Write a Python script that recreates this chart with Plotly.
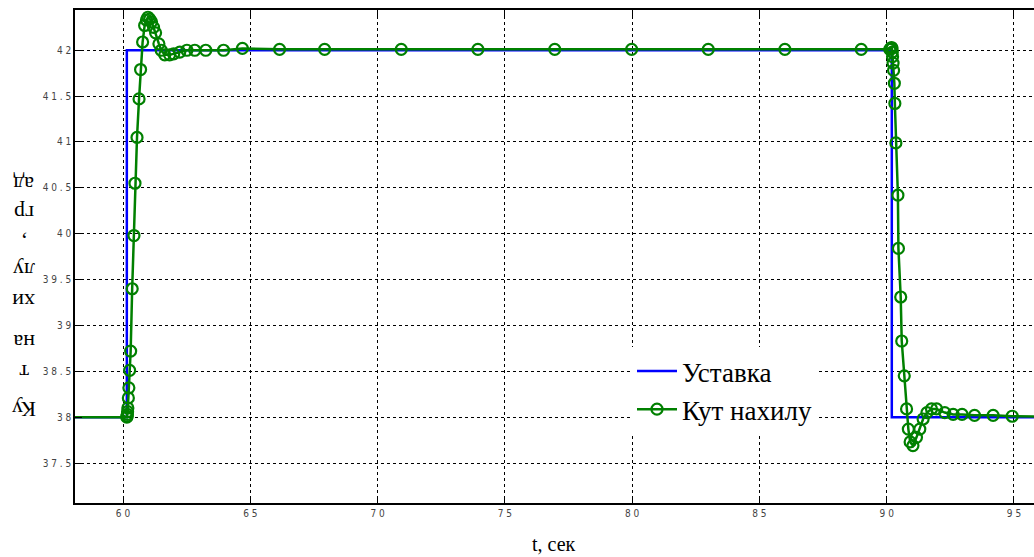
import plotly.graph_objects as go

# ---- data ----
set_t = [57.0, 60.15, 60.15, 90.2, 90.2, 97.0]
set_v = [38.0, 38.0, 42.0, 42.0, 38.0, 38.0]

ang_t = [57.0, 60.15, 60.16, 60.17, 60.18, 60.19, 60.21, 60.23, 60.26, 60.30, 60.36,
         60.43, 60.47, 60.55, 60.63, 60.69, 60.77, 60.85, 60.92, 60.98, 61.05, 61.12,
         61.20, 61.28, 61.41, 61.50, 61.64, 61.83, 61.99, 62.23, 62.51, 62.82, 63.25,
         63.95, 64.69, 66.15, 67.92, 70.93, 73.94, 76.96, 79.98, 82.99, 86.0, 89.0,
         90.12, 90.16, 90.19, 90.21, 90.22, 90.23, 90.25, 90.27, 90.30, 90.32, 90.36,
         90.44, 90.46, 90.55, 90.59, 90.69, 90.78, 90.85, 90.92, 91.03, 91.17, 91.30,
         91.43, 91.58, 91.76, 91.96, 92.28, 92.61, 92.96, 93.45, 94.18, 94.93, 97.0]
ang_v = [38.0, 38.0, 38.01, 38.03, 38.06, 38.10, 38.21, 38.32, 38.51, 38.72, 39.40,
         39.98, 40.55, 41.05, 41.47, 41.79, 42.09, 42.27, 42.33, 42.36, 42.34, 42.31,
         42.25, 42.19, 42.07, 42.0, 41.95, 41.95, 41.96, 41.98, 42.0, 42.0, 42.0,
         42.0, 42.02, 42.01, 42.01, 42.01, 42.01, 42.01, 42.01, 42.01, 42.01, 42.01,
         42.01, 42.02, 42.03, 42.02, 41.98, 41.93, 41.86, 41.78, 41.64, 41.42, 40.99,
         40.42, 39.84, 39.31, 38.83, 38.45, 38.09, 37.87, 37.73, 37.69, 37.78, 37.87,
         37.98, 38.05, 38.09, 38.09, 38.05, 38.03, 38.03, 38.02, 38.02, 38.01, 38.0]

x_ticks = [60, 65, 70, 75, 80, 85, 90, 95]
x_ticktext = ["6 0", "6 5", "7 0", "7 5", "8 0", "8 5", "9 0", "9 5"]
y_ticks = [37.5, 38, 38.5, 39, 39.5, 40, 40.5, 41, 41.5, 42]
y_ticktext = ["3 7 . 5", "3 8", "3 8 . 5", "3 9", "3 9 . 5", "4 0", "4 0 . 5", "4 1", "4 1 . 5", "4 2"]

ylabel_lines = ["Ку", "т", "на", "хи", "лу", ",", "гр", "ад"]
ylabel_px = [410, 373, 342, 302, 271, 243, 214, 184]

W, H = 1034, 557
ML, MR, MT, MB = 75, 0, 10, 54
pw, ph = W - ML - MR, H - MT - MB

def px_x(x):
    return (x - ML) / pw

def px_y(y):
    return (H - MB - y) / ph

tick_font = dict(family="Liberation Sans Narrow, DejaVu Sans Condensed, sans-serif", size=10, color="#444444")
serif = "Liberation Serif, Times New Roman, serif"

fig = go.Figure()
fig.add_trace(go.Scatter(x=set_t, y=set_v, mode="lines", name="Уставка",
                         line=dict(color="#0000FF", width=2.5)))
fig.add_trace(go.Scatter(x=ang_t, y=ang_v, mode="lines+markers", name="Кут нахилу",
                         line=dict(color="#008000", width=2.5),
                         marker=dict(symbol="circle-open", size=11, color="#008000",
                                     line=dict(width=2.2, color="#008000"))))

fig.update_layout(
    width=W, height=H,
    margin=dict(l=ML, r=MR, t=MT, b=MB, autoexpand=False),
    paper_bgcolor="white", plot_bgcolor="white",
    showlegend=True,
    legend=dict(x=px_x(632), y=px_y(347), xanchor="left", yanchor="top",
                bgcolor="white", borderwidth=0,
                font=dict(family=serif, size=27, color="black"),
                tracegroupgap=0, itemwidth=40),
)
fig.update_xaxes(range=[58.114, 95.786], tickvals=x_ticks, ticktext=x_ticktext,
                 tickfont=tick_font, ticks="inside", ticklen=7, tickcolor="black",
                 showline=True, linecolor="black", linewidth=1.5, mirror="ticks",
                 showgrid=True, gridcolor="black", gridwidth=1, griddash="dot",
                 zeroline=False, automargin=False)
fig.update_yaxes(range=[37.064, 42.439], tickvals=y_ticks, ticktext=y_ticktext,
                 tickfont=tick_font, ticks="inside", ticklen=7, tickcolor="black",
                 showline=True, linecolor="black", linewidth=1.5,
                 showgrid=True, gridcolor="black", gridwidth=1, griddash="dot",
                 zeroline=False, automargin=False)

fig.add_annotation(text="t, сек", xref="paper", yref="paper",
                   x=px_x(554), y=px_y(544), showarrow=False,
                   xanchor="center", yanchor="middle",
                   font=dict(family=serif, size=20, color="black"))
for txt, yp in zip(ylabel_lines, ylabel_px):
    fig.add_annotation(text=txt, xref="paper", yref="paper",
                       x=px_x(24), y=px_y(yp), showarrow=False, textangle=180,
                       xanchor="center", yanchor="middle",
                       font=dict(family=serif, size=22, color="black"))

fig.write_html("out.html", config={"displayModeBar": False},
               post_script="document.body.style.margin='0px';document.body.style.overflow='hidden';")
